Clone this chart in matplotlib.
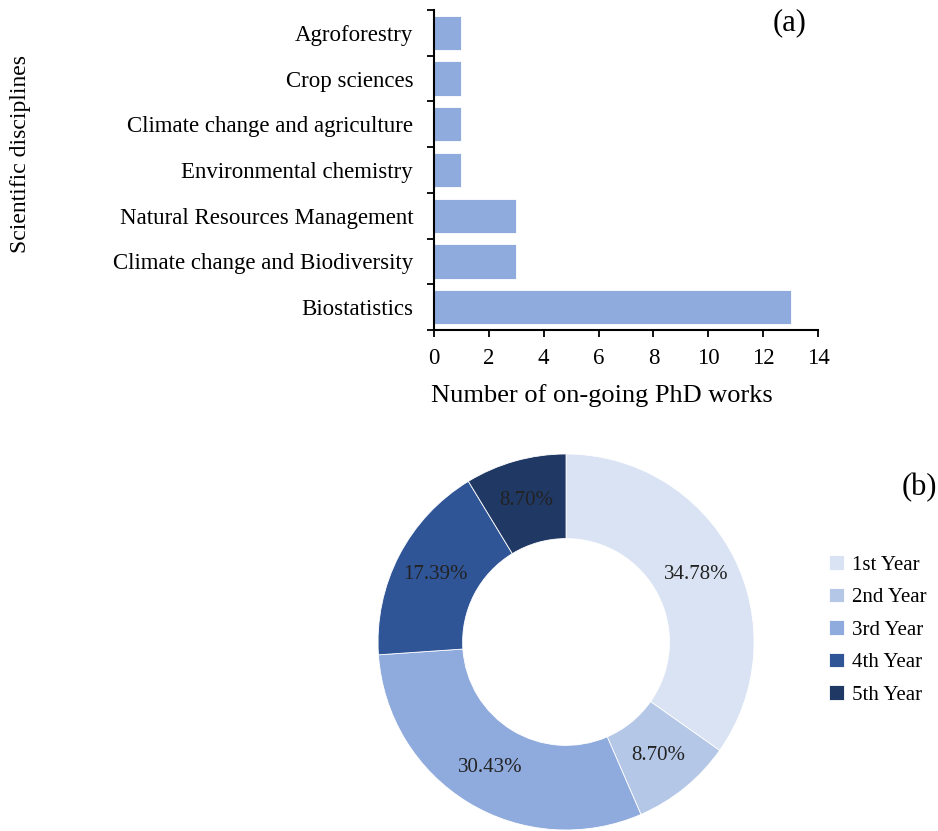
import matplotlib.pyplot as plt

plt.rcParams['font.family'] = ['Liberation Serif', 'DejaVu Serif']

# panel (a): on-going PhD works per discipline
disciplines = ["Biostatistics", "Climate change and Biodiversity",
               "Natural Resources Management", "Environmental chemistry",
               "Climate change and agriculture", "Crop sciences", "Agroforestry"]
phd_counts = [13, 3, 3, 1, 1, 1, 1]

# panel (b): students by year of study
years = ["1st Year", "2nd Year", "3rd Year", "4th Year", "5th Year"]
year_counts = [8, 2, 7, 4, 2]
year_colors = ["#DAE3F3", "#B4C7E7", "#8FAADC", "#2F5597", "#203864"]

fig = plt.figure(figsize=(9.38, 8.31), dpi=100)

ax = fig.add_axes([0.4627, 0.6029, 0.4094, 0.385])
ax.barh(range(len(disciplines)), phd_counts, height=0.75, color="#8FAADC",
        edgecolor="white", linewidth=0.6)
ax.set_xlim(0, 14)
ax.set_ylim(-0.5, len(disciplines) - 0.5)
ax.set_xticks(range(0, 15, 2))
# ticks sit between the bars, labels at the bar centres
ax.set_yticks([i - 0.5 for i in range(len(disciplines) + 1)])
ax.set_yticklabels([])
ax.set_yticks(range(len(disciplines)), minor=True)
ax.set_yticklabels(disciplines, minor=True)
ax.tick_params(axis="y", which="minor", length=0, pad=15, labelsize=16.5)
ax.tick_params(axis="both", which="major", direction="out", length=5,
               width=1.3, labelsize=16.5)
ax.tick_params(axis="x", pad=8)
for s in ["top", "right"]:
    ax.spines[s].set_visible(False)
for s in ["left", "bottom"]:
    ax.spines[s].set_linewidth(1.5)
ax.set_xlabel("Number of on-going PhD works", fontsize=19)
ax.xaxis.set_label_coords(0.4375, -0.17)
ax.set_ylabel("Scientific disciplines", fontsize=17)
ax.yaxis.set_label_coords(-1.05, 0.55)
ax.text(0.925, 0.96, "(a)", transform=ax.transAxes, fontsize=22,
        ha="center", va="center")

# donut
ax2 = fig.add_axes([0.403, 0.0012, 0.4009, 0.4525])
wedges, texts, autotexts = ax2.pie(
    year_counts, colors=year_colors, startangle=90, counterclock=False,
    autopct="%.2f%%", pctdistance=0.78,
    wedgeprops=dict(width=0.45, edgecolor="white", linewidth=0.6),
    textprops=dict(fontsize=15, color="#222222"))
ax2.set_xlim(-1, 1)
ax2.set_ylim(-1, 1)
ax2.set_aspect("equal")

fig.legend(wedges, years, loc="upper left", bbox_to_anchor=(0.875, 0.342),
           frameon=False, fontsize=15, handlelength=0.7, handleheight=0.7,
           handletextpad=0.4, labelspacing=0.62, borderaxespad=0)
fig.text(0.98, 0.413, "(b)", fontsize=22, ha="center", va="center")

fig.savefig("out.png", dpi=100)
